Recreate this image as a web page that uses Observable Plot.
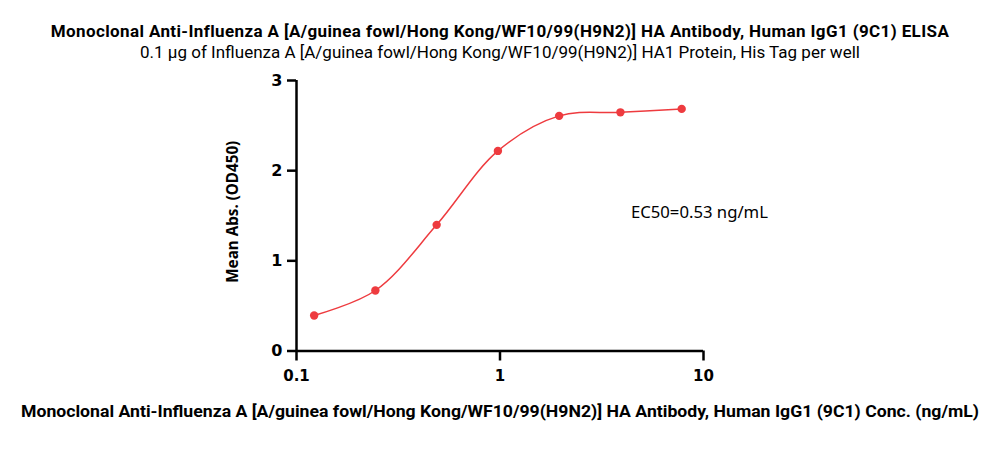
<!DOCTYPE html>
<html><head><meta charset="utf-8">
<script src="https://cdn.jsdelivr.net/npm/d3@7"></script>
<script src="https://cdn.jsdelivr.net/npm/@observablehq/plot@0.6"></script>
<style>
body{margin:0;background:#fff;width:1000px;height:466px;position:relative;overflow:hidden;}
.t{position:absolute;left:0;width:1000px;text-align:center;font-family:Roboto,sans-serif;color:#000;white-space:nowrap;line-height:20px;}
#title{top:21px;font-weight:bold;font-size:17px;letter-spacing:0.38px;}
#subtitle{top:42px;font-size:17px;}
#chart{position:absolute;top:65px;left:0;}
</style></head>
<body>
<div id="title" class="t">Monoclonal Anti-Influenza A [A/guinea fowl/Hong Kong/WF10/99(H9N2)] HA Antibody, Human IgG1 (9C1) ELISA</div>
<div id="subtitle" class="t">0.1 μg of Influenza A [A/guinea fowl/Hong Kong/WF10/99(H9N2)] HA1 Protein, His Tag per well</div>
<div id="chart"></div>
<script>
const concentrations = [0.1221, 0.2441, 0.4883, 0.9766, 1.953, 3.906, 7.8125];
const absorbance = [0.394, 0.671, 1.399, 2.219, 2.608, 2.647, 2.685];
const xTicks = [0.1, 1, 10];
const yTicks = [0, 1, 2, 3];
const xLabel = "Monoclonal Anti-Influenza A [A/guinea fowl/Hong Kong/WF10/99(H9N2)] HA Antibody, Human IgG1 (9C1) Conc. (ng/mL)";
const yLabel = "Mean Abs. (OD450)";
const ec50Text = "EC50=0.53 ng/mL";
const ec50Pos = {x: 4.4, y: 1.535};

const data = concentrations.map((c, i) => ({x: c, y: absorbance[i]}));
const red = "#ee3b3f";
const narrow = "Roboto, sans-serif";
const wide = "'Noto Sans', sans-serif";

const plot = Plot.plot({
  width: 1000,
  height: 401,
  marginLeft: 296,
  marginRight: 297,
  marginTop: 15,
  marginBottom: 115.5,
  style: {fontFamily: "'DejaVu Sans', sans-serif", background: "transparent", color: "#000"},
  x: {type: "log", domain: [0.1, 10]},
  y: {domain: [0, 3]},
  marks: [
    Plot.axisX({ticks: xTicks, tickFormat: d => String(d), tickSize: 10, tickPadding: 9, strokeWidth: 2.5, fontSize: 15, fontWeight: "bold", label: null}),
    Plot.axisY({ticks: yTicks, tickFormat: d => String(d), tickSize: 9, tickPadding: 5, strokeWidth: 2.5, fontSize: 16, fontWeight: "bold", label: null}),
    Plot.ruleX([0.1], {strokeWidth: 2.5, stroke: "#000"}),
    Plot.ruleY([0], {strokeWidth: 2.5, stroke: "#000"}),
    Plot.line(data, {x: "x", y: "y", stroke: red, strokeWidth: 1.5, curve: "catmull-rom"}),
    Plot.dot(data, {x: "x", y: "y", r: 4.2, fill: red, stroke: "none"}),
    Plot.text([ec50Text], {x: ec50Pos.x, y: ec50Pos.y, text: d => d, textAnchor: "start", fontSize: 16, fontFamily: wide, fill: "#000"}),
    Plot.text([yLabel], {frameAnchor: "left", text: d => d, rotate: -90, dx: -63, dy: -4, textAnchor: "middle", fontSize: 15.5, fontWeight: "bold", fontFamily: wide, fill: "#000"}),
    Plot.text([xLabel], {frameAnchor: "bottom", text: d => d, dy: 60.5, lineAnchor: "middle", fontSize: 17, fontWeight: "bold", fontFamily: narrow, fill: "#000"})
  ]
});
const fitWidths = new Map([[xLabel, 958], [yLabel, 142], [ec50Text, 137]]);
plot.querySelectorAll("text").forEach(t => {
  const w = fitWidths.get(t.textContent);
  if (w) { t.setAttribute("textLength", w); t.setAttribute("lengthAdjust", "spacingAndGlyphs"); }
});
document.getElementById("chart").appendChild(plot);
</script>
</body></html>
